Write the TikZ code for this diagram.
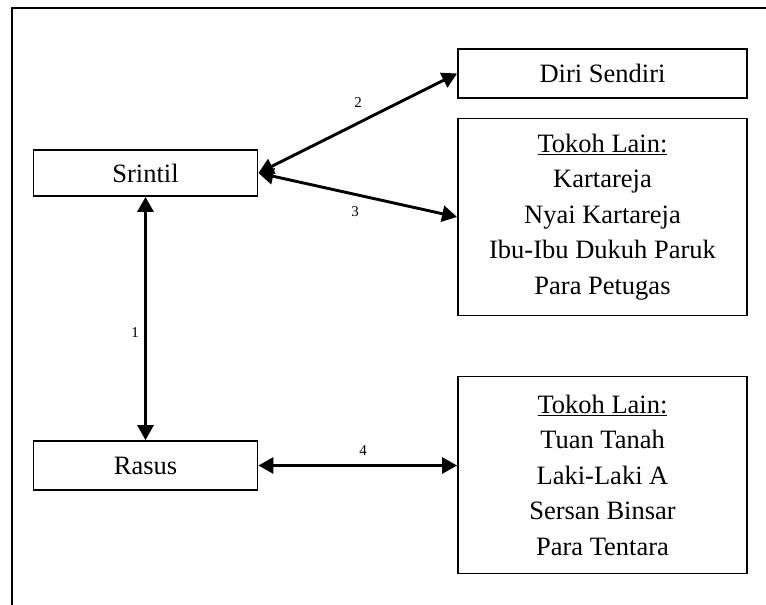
\documentclass[tikz,border=0pt]{standalone}
\usepackage{fontspec}
\setmainfont{Liberation Serif}
\usetikzlibrary{arrows.meta,calc}
\begin{document}
\begin{tikzpicture}[x=1pt,y=-1pt,
  box/.style={draw,line width=1.8pt,rectangle,inner sep=0pt,align=center,
    font=\fontsize{26.5}{35.5}\selectfont},
  conn/.style={line width=2.9pt,{Triangle[length=15pt,width=16pt]}-{Triangle[length=15pt,width=16pt]}},
  num/.style={font=\fontsize{15}{18}\selectfont}]
\useasboundingbox (0,0) rectangle (766,605);
\draw[line width=2pt] (12,605) -- (12,8) -- (766,8);
\node[box,minimum width=224pt,minimum height=46pt] (srintil) at (145.5,173) {Srintil};
\node[box,minimum width=224pt,minimum height=49pt] (rasus) at (145.5,465.5) {Rasus};
\node[box,minimum width=289pt,minimum height=49pt] (diri) at (602.5,73.5) {Diri Sendiri};
\node[box,minimum width=289pt,minimum height=197pt] (tok1) at (602.5,217) {\underline{Tokoh Lain:}\\Kartareja\\Nyai Kartareja\\Ibu-Ibu Dukuh Paruk\\Para Petugas};
\node[box,minimum width=289pt,minimum height=197pt] (tok2) at (602.5,475) {\underline{Tokoh Lain:}\\Tuan Tanah\\Laki-Laki A\\Sersan Binsar\\Para Tentara};
\draw[conn] (srintil.east) -- (diri.west);
\draw[conn] (srintil.east) -- (tok1.west);
\draw[conn] (srintil.south) -- (rasus.north);
\draw[conn] (rasus.east) -- (rasus.east -| tok2.west);
\node[num] (l2) at (358,103) {2};
\node[num] (l3) at (355,212) {3};
\node[num] (l1) at (135,333) {1};
\node[num] (l4) at (363,451) {4};
\end{tikzpicture}
\end{document}
